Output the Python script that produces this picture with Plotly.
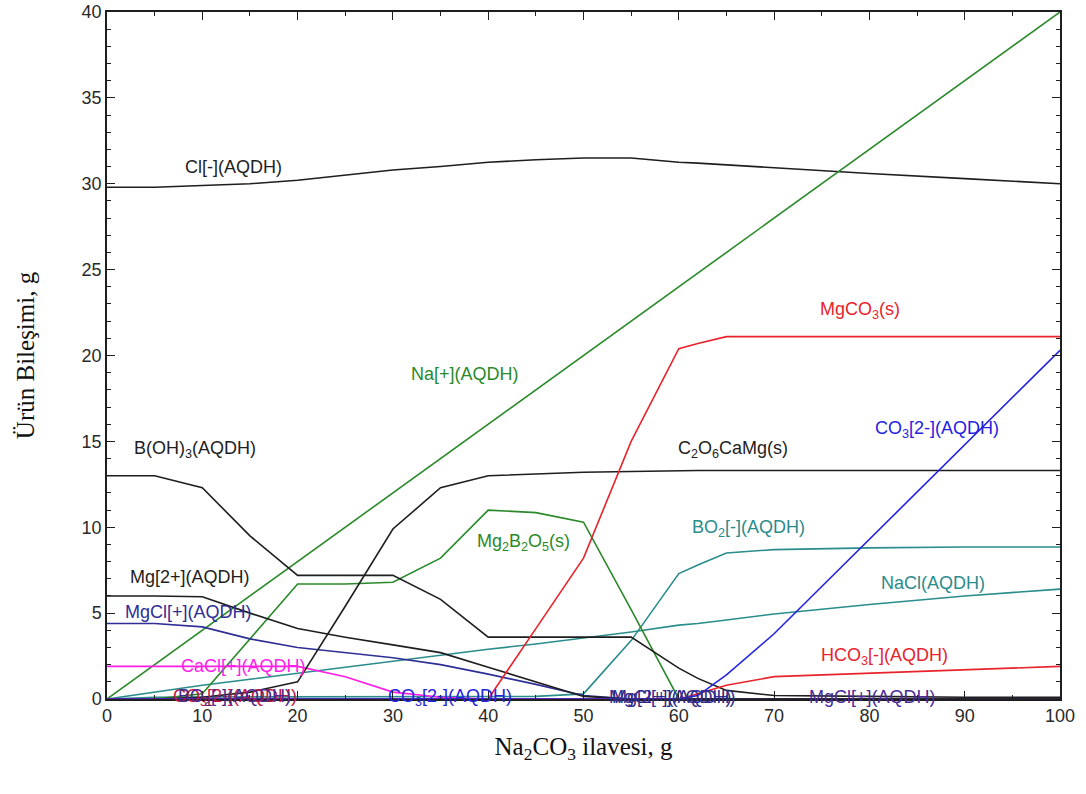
import plotly.graph_objects as go

# Na2CO3 addition (g) and product amounts (g)
x = [0, 5, 10, 15, 20, 25, 30, 35, 40, 45, 50, 55, 60, 62, 65, 70, 80, 90, 100]

cl_minus     = [29.8, 29.8, 29.9, 30.0, 30.2, 30.5, 30.8, 31.0, 31.25, 31.4, 31.5, 31.5, 31.25, 31.2, 31.1, 30.9, 30.6, 30.3, 30.0]
na_plus      = [0, 2, 4, 6, 8, 10, 12, 14, 16, 18, 20, 22, 24, 24.8, 26, 28, 32, 36, 40]
mgco3_s      = [0, 0, 0, 0, 0, 0, 0, 0, 0, 4.1, 8.2, 15.0, 20.4, 20.7, 21.1, 21.1, 21.1, 21.1, 21.1]
b_oh3        = [13.0, 13.0, 12.3, 9.5, 7.2, 7.2, 7.2, 5.8, 3.6, 3.6, 3.6, 3.6, 1.8, 1.2, 0.5, 0.2, 0.15, 0.1, 0.1]
c2o6camg_s   = [0, 0, 0.1, 0.4, 1.0, 5.4, 9.9, 12.3, 13.0, 13.1, 13.2, 13.25, 13.3, 13.3, 13.3, 13.3, 13.3, 13.3, 13.3]
co3_2minus   = [0, 0, 0, 0, 0, 0, 0, 0, 0, 0, 0, 0, 0, 0.2, 1.4, 3.8, 9.3, 14.8, 20.3]
mg2b2o5_s    = [0, 0, 0.3, 3.5, 6.7, 6.7, 6.8, 8.2, 11.0, 10.85, 10.3, 5.2, 0, 0, 0, 0, 0, 0, 0]
bo2_minus    = [0, 0.1, 0.12, 0.12, 0.12, 0.12, 0.15, 0.15, 0.15, 0.15, 0.3, 3.4, 7.3, 7.8, 8.5, 8.7, 8.8, 8.85, 8.85]
mg_2plus     = [6.0, 6.0, 5.95, 5.0, 4.1, 3.6, 3.15, 2.7, 1.85, 1.0, 0.15, 0, 0, 0, 0, 0, 0, 0, 0]
nacl         = [0, 0.4, 0.8, 1.15, 1.5, 1.85, 2.2, 2.55, 2.9, 3.2, 3.55, 3.9, 4.3, 4.4, 4.6, 4.95, 5.5, 6.0, 6.4]
mgcl_plus    = [4.4, 4.4, 4.2, 3.5, 3.0, 2.7, 2.4, 2.0, 1.45, 0.85, 0.2, 0, 0, 0, 0, 0, 0, 0, 0]
cacl_plus    = [1.9, 1.9, 1.9, 1.9, 1.9, 1.3, 0.4, 0.1, 0, 0, 0, 0, 0, 0, 0, 0, 0, 0, 0]
hco3_minus   = [0, 0, 0, 0, 0, 0, 0, 0, 0, 0, 0, 0, 0, 0.3, 0.8, 1.3, 1.5, 1.7, 1.9]

BLACK = "#1e1e1e"
GREEN = "#2a8a2a"
RED = "#e8232b"
BLUE = "#2424e0"
TEAL = "#2a8c8c"
NAVY = "#2e2e96"
MAGENTA = "#ff1ee8"

series = [
    (cl_minus, BLACK),
    (na_plus, GREEN),
    (nacl, TEAL),
    (bo2_minus, TEAL),
    (mg2b2o5_s, GREEN),
    (cacl_plus, MAGENTA),
    (mgcl_plus, NAVY),
    (mg_2plus, BLACK),
    (b_oh3, BLACK),
    (c2o6camg_s, BLACK),
    (mgco3_s, RED),
    (hco3_minus, RED),
    (co3_2minus, BLUE),
]

fig = go.Figure()
for ys, col in series:
    fig.add_trace(go.Scatter(x=x, y=ys, mode="lines",
                             line=dict(color=col, width=1.6),
                             showlegend=False, hoverinfo="skip"))

# curve labels: (text, x, y, colour)
labels = [
    ("Cl[-](AQDH)", 13.3, 31.0, BLACK),
    ("Na[+](AQDH)", 37.6, 18.9, GREEN),
    ("MgCO<sub>3</sub>(s)", 79.0, 22.6, RED),
    ("B(OH)<sub>3</sub>(AQDH)", 9.2, 14.5, BLACK),
    ("C<sub>2</sub>O<sub>6</sub>CaMg(s)", 65.7, 14.5, BLACK),
    ("CO<sub>3</sub>[2-](AQDH)", 87.1, 15.7, BLUE),
    ("Mg<sub>2</sub>B<sub>2</sub>O<sub>5</sub>(s)", 43.7, 9.1, GREEN),
    ("BO<sub>2</sub>[-](AQDH)", 67.3, 9.95, TEAL),
    ("Mg[2+](AQDH)", 8.7, 7.1, BLACK),
    ("NaCl(AQDH)", 86.7, 6.75, TEAL),
    ("MgCl[+](AQDH)", 8.5, 5.07, NAVY),
    ("CaCl[+](AQDH)", 14.3, 1.92, MAGENTA),
    ("HCO<sub>3</sub>[-](AQDH)", 81.6, 2.45, RED),
    ("CO<sub>3</sub>[2-](AQDH)", 13.4, 0.1, "#c01848"),
    ("BO<sub>2</sub>[-](AQDH)", 13.4, 0.1, "#4a2a8a"),
    ("CO<sub>3</sub>[2-](AQDH)", 36.0, 0.1, BLUE),
    ("Mg[2+](AQDH)", 59.3, 0.1, "#3a2a7a"),
    ("MgCl[+](AQDH)", 59.3, 0.1, NAVY),
    ("MgCl[+](AQDH)", 80.3, 0.1, "#4a2a9a"),
]
for txt, lx, ly, col in labels:
    fig.add_annotation(x=lx, y=ly, text=txt, showarrow=False,
                       font=dict(family="Liberation Sans, Arial", size=18, color=col),
                       xanchor="center", yanchor="middle")

axis_common = dict(
    showline=True, linecolor="#1e1e1e", linewidth=1.5, mirror="ticks",
    ticks="inside", ticklen=8, tickwidth=1.2, tickcolor="#1e1e1e",
    showgrid=False, zeroline=False, automargin=False,
    tickfont=dict(family="Liberation Sans, Arial", size=18, color="#2a2a2a"),
)

fig.update_xaxes(range=[0, 100], dtick=10, tick0=0,
                 minor=dict(dtick=5, ticks="inside", ticklen=4, tickcolor="#1e1e1e"),
                 title=dict(text="Na<sub>2</sub>CO<sub>3</sub> ilavesi, g",
                            font=dict(family="Liberation Serif, Times New Roman", size=25, color="#111111"),
                            standoff=12),
                 **axis_common)
fig.update_yaxes(range=[0, 40], dtick=5, tick0=0,
                 minor=dict(dtick=1, ticks="inside", ticklen=4, tickcolor="#1e1e1e"),
                 title=dict(text="Ürün Bileşimi, g",
                            font=dict(family="Liberation Serif, Times New Roman", size=25, color="#111111"),
                            standoff=40),
                 **axis_common)

fig.update_layout(
    width=1086, height=794,
    margin=dict(l=107, r=26, t=12, b=95),
    plot_bgcolor="white", paper_bgcolor="white",
)

fig.write_html("out.html")
